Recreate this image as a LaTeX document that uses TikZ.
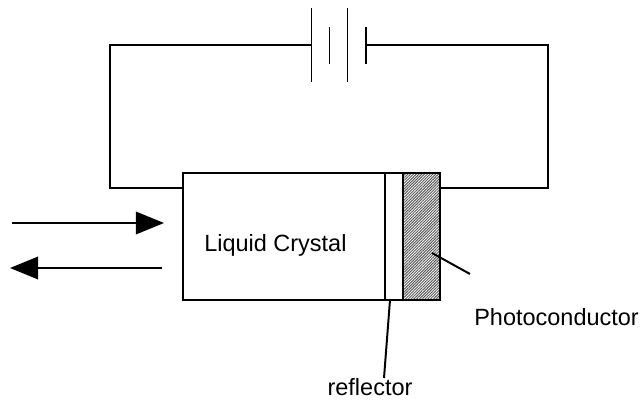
\documentclass[tikz,border=0pt]{standalone}
\usepackage{fontspec}
\setmainfont{Liberation Sans}
\usetikzlibrary{arrows.meta,patterns.meta}

\tikzset{
  wire/.style={line width=1.4pt},
  part/.style={draw, line width=1.4pt, minimum height=3.175cm, inner sep=0pt, outer sep=0pt},
  beam/.style={line width=1.4pt, -{Triangle[length=20pt,width=16pt]}},
  caption/.style={font=\fontsize{16.7}{20}\selectfont, inner sep=0pt}
}

\begin{document}
\begin{tikzpicture}[x=0.025cm, y=-0.025cm]
  \useasboundingbox (0, 0) rectangle (640, 401);

  % cell
  \node[part, minimum width=5.0375cm] (lc) at (283.75, 236.5) {};
  \node[part, minimum width=0.4625cm] (refl) at (393.75, 236.5) {};
  \node[part, minimum width=0.925cm, fill=gray!35, pattern={Lines[angle=45,distance=1.4pt,line width=0.7pt]}, pattern color=black!65] (pc) at (421.5, 236.5) {};

  % battery
  \coordinate (b0t) at (311.5, 8);
  \coordinate (b0b) at (311.5, 82);
  \coordinate (b1t) at (329.5, 27);
  \coordinate (b1b) at (329.5, 64);
  \coordinate (b2t) at (347.5, 8);
  \coordinate (b2b) at (347.5, 82);
  \coordinate (b3t) at (366, 27);
  \coordinate (b3b) at (366, 64);
  \draw[wire] (b0t) -- (b0b);
  \draw[wire] (b1t) -- (b1b);
  \draw[wire] (b2t) -- (b2b);
  \draw[wire] (b3t) -- (b3b);

  % wires
  \coordinate (bl) at (311.5, 45);
  \coordinate (br) at (366, 45);
  \coordinate (cl) at (183, 188);
  \coordinate (cr) at (440, 188);
  \draw[wire] (bl) -- (110, 45) -- (110, 188) -- (cl);
  \draw[wire] (br) -- (548, 45) -- (548, 188) -- (cr);

  % light in and out
  \coordinate (in0) at (12, 223);
  \coordinate (in1) at (164, 223);
  \coordinate (out0) at (162, 268);
  \coordinate (out1) at (10, 268);
  \draw[beam] (in0) -- (in1);
  \draw[beam] (out0) -- (out1);

  % labels
  \node[caption, anchor=west] (lctext) at (204, 245) {Liquid Crystal};
  \node[caption, anchor=west] (pctext) at (474, 317) {Photoconductor};
  \node[caption] (refltext) at (370, 387) {reflector};

  \coordinate (pctip) at (432, 253);
  \coordinate (pcend) at (470, 274);
  \coordinate (refltip) at (390, 300);
  \coordinate (reflend) at (384, 378);
  \draw[wire] (pctip) -- (pcend);
  \draw[wire] (refltip) -- (reflend);
\end{tikzpicture}
\end{document}
